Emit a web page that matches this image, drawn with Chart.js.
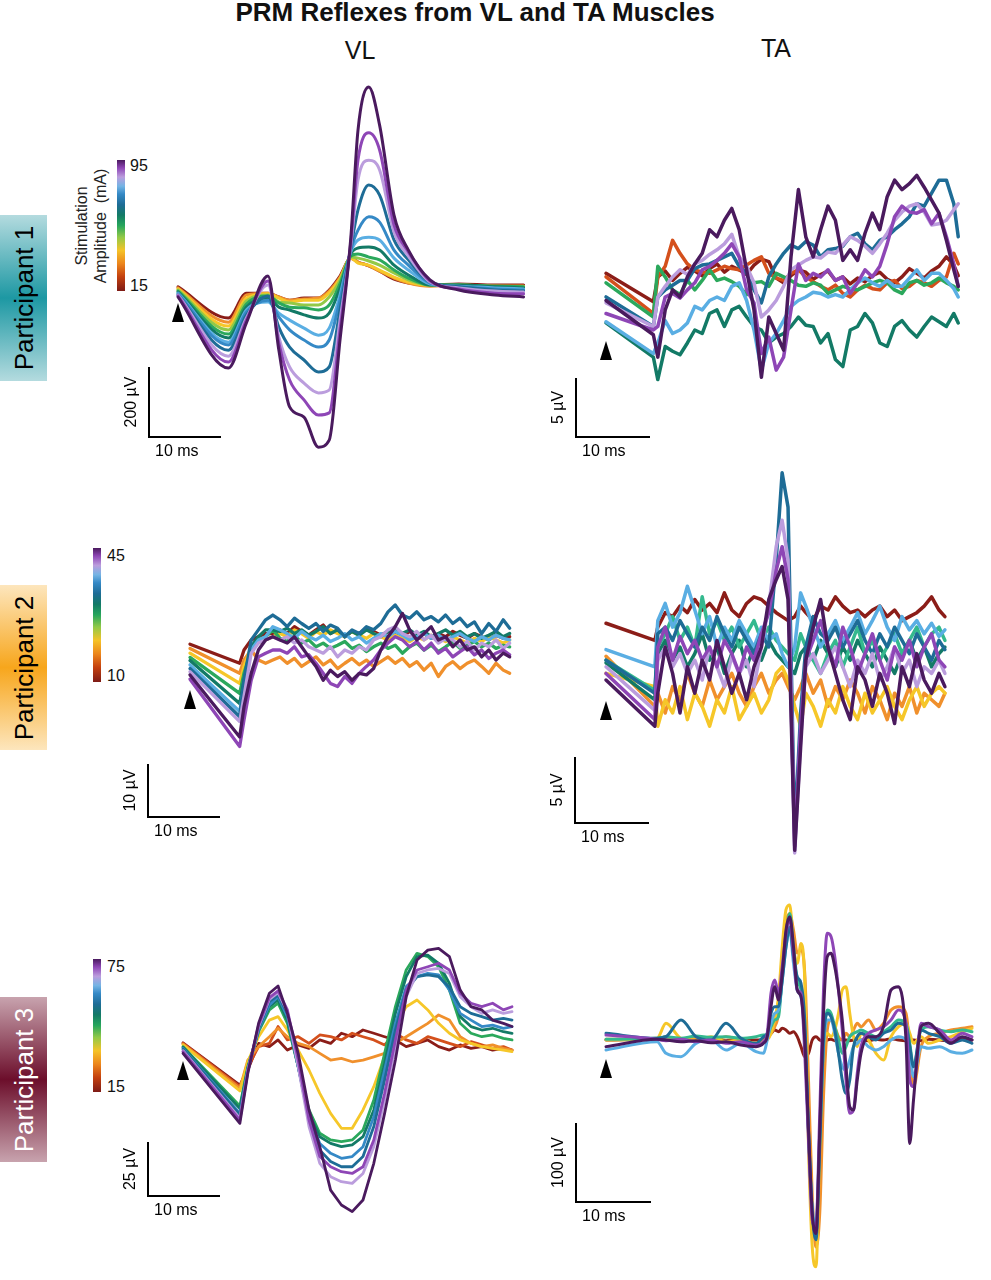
<!DOCTYPE html>
<html>
<head>
<meta charset="utf-8">
<script src="https://cdn.jsdelivr.net/npm/chart.js@4.4.1/dist/chart.umd.min.js"></script>
<style>
  body { margin: 0; background: #fff; font-family: 'Liberation Sans', Arial, sans-serif; }
  #page { position: relative; width: 991px; height: 1280px; overflow: hidden; }
  .abs { position: absolute; }
  .title { left: 0; top: -1px; width: 950px; text-align: center; font: bold 26px/26px 'Liberation Sans', Arial, sans-serif; color: #111; }
  .head { width: 100px; text-align: center; font: 25px/25px 'Liberation Sans', Arial, sans-serif; color: #111; }
  .pbox { left: 0; width: 47px; }
  .pbox span { position: absolute; left: 50%; top: 50%; transform: translate(-50%, -50%) rotate(-90deg); white-space: nowrap; font: 26px/26px 'Liberation Sans', Arial, sans-serif; }
  .cbar { width: 8px; background: linear-gradient(to top, #7e1b16 0%, #c4410f 11%, #ec861c 21%, #f5c328 31%, #92c947 41%, #27a65c 50%, #137a66 58%, #1e6c96 66%, #3589c6 74%, #74b4e4 80%, #bb9ddd 87%, #8e46b6 94%, #4a1a5e 100%); }
  .ctick { font: 16px/18px 'Liberation Sans', Arial, sans-serif; color: #111; }
  .stim { left: 91px; top: 226px; transform: translate(-50%, -50%) rotate(-90deg); text-align: center; white-space: nowrap; font: 16px/19px 'Liberation Sans', Arial, sans-serif; color: #222; }
</style>
</head>
<body>
<div id="page">
  <div class="abs title">PRM Reflexes from VL and TA Muscles</div>
  <div class="abs head" style="left:310px;top:38px">VL</div>
  <div class="abs head" style="left:726px;top:36px">TA</div>

  <div class="abs pbox" style="top:215px;height:166px;background:linear-gradient(to bottom,#b4dbdf,#1d98a3 50%,#b4dbdf)"><span style="color:#000">Participant 1</span></div>
  <div class="abs pbox" style="top:585px;height:165px;background:linear-gradient(to bottom,#fde6bd,#f7a61c 50%,#fde6bd)"><span style="color:#000">Participant 2</span></div>
  <div class="abs pbox" style="top:997px;height:165px;background:linear-gradient(to bottom,#c8a3ae,#6c0e2b 50%,#c8a3ae)"><span style="color:#fff">Participant 3</span></div>

  <div class="abs cbar" style="left:117px;top:160px;height:131px"></div>
  <div class="abs ctick" style="left:130px;top:157px">95</div>
  <div class="abs ctick" style="left:130px;top:277px">15</div>
  <div class="abs stim">Stimulation<br>Amplitude&nbsp; (mA)</div>

  <div class="abs cbar" style="left:93px;top:548px;height:134px"></div>
  <div class="abs ctick" style="left:107px;top:547px">45</div>
  <div class="abs ctick" style="left:107px;top:667px">10</div>

  <div class="abs cbar" style="left:93px;top:959px;height:133px"></div>
  <div class="abs ctick" style="left:107px;top:958px">75</div>
  <div class="abs ctick" style="left:107px;top:1078px">15</div>
</div>

<script>
// trace colours, one per stimulation level (dark red = lowest, dark purple = highest)
const PAL = {
  dr: '#8b1d18', or: '#d4501c', lo: '#f0902c', ye: '#f6c729', lg: '#93c947',
  gr: '#2ba85c', tg: '#34b98e', dg: '#137a66', db: '#1e6c96', bl: '#3589c6',
  lb: '#5aaee3', li: '#bb9ddd', pu: '#8e46b6', dp: '#4a1a5e'
};

// ---- Participant 1, VL (ms, µV) ----
const vl1Time = [0, 7, 9.5, 12.5, 14, 15.5, 17.5, 19.5, 21, 22.5, 24, 25, 26.5, 28, 30, 32, 35, 39, 44, 48];
const vl1Dr = [9, -80, -9, -9, -20, -29, -23, -23, 0, 40, 91, 80, 69, 54, 31, 20, 14, 17, 14, 14];
const vl1Lo = [6, -92, -14, -9, -20, -29, -26, -23, -3, 36, 91, 80, 69, 54, 34, 20, 11, 14, 11, 11];
const vl1Ye = [3, -103, -23, -11, -23, -34, -29, -29, -8, 32, 91, 77, 71, 57, 37, 23, 14, 14, 11, 11];
const vl1Lg = [0, -114, -31, -14, -34, -37, -43, -43, -20, 27, 94, 91, 83, 71, 49, 29, 14, 14, 11, 9];
const vl1Gr = [-3, -126, -40, -17, -37, -49, -51, -57, -43, 18, 97, 103, 94, 86, 57, 34, 14, 14, 11, 9];
const vl1Dg = [-6, -137, -49, -23, -49, -57, -71, -80, -66, 5, 103, 120, 123, 114, 71, 43, 14, 14, 9, 6];
const vl1Lb = [-9, -149, -57, -34, -66, -86, -109, -129, -109, -14, 109, 143, 151, 143, 91, 57, 17, 11, 6, 3];
const vl1Bl = [-11, -157, -63, -29, -77, -114, -143, -163, -143, -29, 114, 171, 209, 194, 114, 71, 20, 9, 3, 0];
const vl1Db = [-14, -172, -72, -17, -106, -163, -200, -234, -220, -57, 120, 229, 300, 271, 143, 86, 23, 9, 0, -3];
const vl1Li = [-14, -189, -80, 14, -134, -220, -266, -294, -286, -86, 126, 314, 371, 343, 166, 97, 23, 6, -3, -6];
const vl1Pu = [-17, -206, -86, 26, -151, -257, -314, -357, -351, -114, 137, 371, 449, 400, 186, 109, 26, 3, -9, -11];
const vl1Dp = [-20, -223, -94, 40, -171, -334, -363, -449, -429, -143, 149, 457, 580, 471, 214, 114, 29, 0, -14, -20];

// ---- Participant 1, TA ----
const ta1Time = [0, 6.4, 7, 8, 9, 10, 11, 12, 13, 14, 15, 16, 17, 18, 19, 20, 21, 22, 23, 24, 25, 26, 27, 28, 29, 30, 31, 32, 33, 34, 35, 36, 37, 38, 39, 40, 41, 42, 43, 44, 45, 46, 47, 47.6];
const ta1Dp = [2.5, -0.4, -2.3, 1.7, 3.4, 2.8, 4.5, 5.6, 6.5, 8.5, 7.9, 9.3, 10.3, 8.5, 5.1, 1.7, -4.0, 1.1, -0.3, -1.7, 6.2, 11.9, 7.9, 6.2, 8.5, 10.5, 9.3, 5.9, 6.8, 5.9, 8.2, 9.9, 8.5, 11.3, 12.7, 11.9, 12.4, 13.1, 12.1, 11.0, 9.9, 7.6, 5.1, 3.7];
const ta1Pu = [1.4, 0, 0.3, 2.8, 3.1, 2.7, 3.4, 4.0, 5.1, 5.4, 5.9, 6.5, 7.3, 6.2, 3.4, 2.3, -2.0, -0.6, -3.4, -2.3, 1.7, 5.6, 4.2, 4.8, 4.5, 5.1, 4.2, 4.5, 3.1, 4.0, 5.1, 4.5, 5.4, 7.3, 9.6, 10.5, 10.0, 9.9, 10.2, 9.0, 9.9, 7.9, 5.6, 3.7];
const ta1Li = [2.3, 0.3, 2.8, 3.7, 4.5, 5.1, 4.7, 5.6, 5.9, 6.4, 6.8, 7.3, 8.1, 6.2, 5.4, 4.0, 1.1, 1.7, 2.5, 3.7, 5.1, 5.5, 5.9, 6.2, 6.1, 6.6, 6.5, 7.2, 7.9, 7.6, 7.1, 6.5, 7.3, 8.2, 9.3, 10.0, 10.5, 10.7, 10.0, 8.9, 9.0, 9.3, 10.2, 10.7];
const ta1Lb = [0.7, -2.0, -1.1, 0.8, -0.3, 0, 0.6, 2.0, 1.7, 2.5, 2.8, 2.5, 3.7, 4.0, 2.5, 0, -3.4, -1.1, -0.3, 0.8, 2.0, 2.5, 2.8, 3.2, 3.1, 2.8, 3.0, 2.8, 3.4, 4.0, 4.4, 4.0, 3.7, 4.2, 3.7, 3.7, 4.4, 5.1, 4.2, 4.8, 4.8, 4.2, 3.5, 2.8];
const ta1Db = [2.8, 0.3, 2.8, 3.4, 3.8, 4.2, 4.2, 5.2, 5.5, 5.6, 5.9, 6.2, 6.5, 5.4, 4.8, 3.4, 2.3, 4.5, 5.6, 6.5, 7.2, 6.9, 7.5, 7.2, 6.2, 6.8, 6.9, 7.1, 7.9, 8.2, 7.3, 6.8, 7.6, 7.9, 8.5, 9.0, 9.6, 10.7, 10.5, 11.6, 12.7, 12.7, 10.7, 7.9];
const ta1Dg = [0.6, -2.3, -4.2, -1.4, -1.8, -2.1, -1.1, 0, -0.3, 1.4, 1.7, 0.3, 1.7, 2.0, 1.1, 0.3, 0, -1.1, -0.6, -0.3, 0.3, 1.1, 0.4, 0.3, -1.1, -0.3, -2.5, -3.1, 0, 0.3, 1.4, 0.6, -1.1, -1.4, 0.3, 0.8, 0, -0.6, 0.3, 1.1, 0.7, 0.3, 1.4, 0.6];
const ta1Gr = [4.0, 1.1, 5.4, 4.5, 3.4, 3.0, 4.2, 3.4, 4.2, 5.1, 4.2, 4.4, 4.1, 3.7, 3.0, 4.0, 4.1, 3.7, 4.8, 4.5, 4.2, 3.8, 3.7, 4.0, 3.8, 3.1, 3.4, 3.7, 3.5, 3.4, 3.7, 4.0, 4.2, 4.0, 3.4, 3.1, 4.0, 4.2, 3.8, 4.0, 4.4, 4.0, 3.7, 3.4];
const ta1Or = [4.5, 1.4, 4.5, 5.4, 7.6, 6.5, 5.6, 5.1, 4.9, 4.8, 5.1, 5.4, 5.2, 5.1, 5.5, 5.9, 6.2, 4.8, 4.4, 4.2, 4.8, 5.1, 4.5, 4.1, 3.7, 3.4, 3.8, 3.1, 2.8, 3.4, 3.8, 3.5, 3.4, 4.0, 4.2, 3.5, 3.7, 4.2, 4.0, 3.7, 4.2, 4.5, 6.5, 5.6];
const ta1Dr = [4.8, 2.4, 4.5, 5.0, 4.2, 4.8, 5.3, 5.0, 4.6, 5.2, 5.6, 4.9, 5.4, 5.1, 4.7, 5.5, 6.0, 5.8, 4.4, 4.0, 4.6, 5.1, 4.9, 4.3, 4.7, 5.0, 4.2, 4.5, 3.9, 4.4, 4.1, 4.6, 4.9, 4.3, 4.0, 4.5, 5.2, 4.8, 4.4, 5.0, 5.4, 6.2, 5.5, 4.6];

// ---- Participant 2, VL ----
const vl2Time = [0, 6.9, 7.5, 8.5, 9.5, 10.5, 11.5, 12.5, 13.5, 14.5, 15.5, 16.5, 17.5, 18.5, 19.5, 20.5, 21.5, 22.5, 23.5, 24.5, 25.5, 26.5, 27.5, 28.5, 29.5, 30.5, 31.5, 32.5, 33.5, 34.5, 35.5, 36.5, 37.5, 38.5, 39.5, 40.5, 41.5, 42.5, 43.5, 44.4];
const vl2Dr = [1.1, -2.5, 0, 1.9, 2.5, 3.1, 3.1, 3.8, 3.1, 4.4, 3.5, 2.8, 3.8, 4.7, 3.1, 3.8, 2.5, 3.5, 3.1, 4.1, 3.5, 2.8, 3.5, 3.1, 2.5, 3.5, 2.8, 3.1, 2.2, 3.1, 2.5, 3.5, 2.8, 2.2, 3.1, 2.5, 1.9, 2.8, 2.2, 2.5];
const vl2Lo = [0.3, -4.4, -1.9, 0, -1.9, -2.5, -1.9, -1.3, -2.5, -1.6, -3.1, -2.2, -1.3, -2.8, -1.9, -3.5, -2.5, -1.6, -2.8, -1.9, -3.1, -2.2, -1.3, -2.5, -1.6, -3.1, -2.2, -3.8, -2.5, -5.0, -3.1, -2.2, -3.5, -2.5, -1.9, -3.1, -4.4, -2.5, -3.8, -4.4];
const vl2Ye = [-0.6, -6.3, -3.1, 0.6, 1.3, 1.9, 2.5, 3.1, 2.5, 3.8, 3.1, 2.2, 3.5, 2.8, 3.8, 3.1, 2.5, 3.5, 2.8, 2.2, 3.1, 2.5, 1.9, 2.8, 2.2, 1.6, 2.5, 1.9, 2.8, 2.2, 1.6, 2.5, 1.9, 1.3, 2.2, 1.6, 2.5, 1.9, 1.3, 1.9];
const vl2Gr = [-1.4, -8.2, -4.4, 0, 1.9, 2.5, 3.8, 2.2, 1.6, 2.8, 1.3, 1.9, 0.6, 1.3, 0.3, 0.9, 1.6, 0.3, 0.9, -0.3, 0.6, 1.3, 0.3, 0.9, -0.6, 0.6, 1.3, 0, 0.9, -0.3, 0.6, 1.6, 0.3, 0.9, 1.6, 0.6, 1.3, 0.3, 0.9, 0.6];
const vl2Dg = [-2.0, -10.1, -5.7, 0.6, 2.5, 3.8, 3.8, 3.5, 4.1, 3.1, 3.8, 2.8, 3.5, 4.4, 3.1, 3.8, 2.5, 3.5, 2.8, 3.8, 3.1, 2.5, 3.5, 4.1, 3.1, 3.8, 2.8, 3.5, 2.5, 3.1, 3.8, 2.8, 3.5, 2.5, 3.1, 2.2, 2.8, 3.5, 2.5, 3.1];
const vl2Lb = [-2.8, -11.6, -6.9, 0, 1.9, 2.5, 4.4, 3.8, 3.1, 2.2, 3.5, 2.5, 1.9, 2.8, 1.6, 2.2, 3.1, 1.9, 2.5, 1.3, 2.2, 3.1, 2.5, 3.5, 2.8, 1.9, 2.5, 3.1, 2.2, 2.8, 1.9, 2.5, 3.1, 2.2, 1.6, 2.5, 1.9, 2.8, 2.2, 1.9];
const vl2Db = [-3.5, -12.6, -5.7, 1.9, 3.8, 5.7, 6.6, 5.7, 4.4, 6.0, 5.0, 4.1, 5.0, 3.5, 4.7, 4.1, 2.5, 3.8, 3.1, 4.4, 3.8, 5.0, 7.2, 8.5, 6.6, 6.0, 7.2, 5.7, 6.3, 5.3, 6.6, 5.0, 6.0, 4.4, 5.3, 3.1, 5.0, 3.5, 5.7, 4.1];
const vl2Li = [-4.1, -13.5, -8.8, -0.6, 1.3, 1.9, 2.5, 1.9, 2.5, 1.3, 1.9, 0.6, 0, -0.6, 0.6, -1.3, 0, -0.6, 0.6, 0, 1.9, 2.5, 3.8, 4.4, 3.1, 2.5, 3.5, 1.9, 2.8, 1.3, 2.2, 1.9, 0.6, 1.6, 0, 1.3, 0.6, 1.9, 0.3, 1.3];
const vl2Dp = [-4.7, -16.4, -10.7, -4.4, 0, 1.9, 2.5, 1.9, 1.3, 2.5, 0.6, -1.3, -3.1, -5.7, -3.8, -5.0, -4.1, -5.7, -4.4, -4.7, -3.5, 0, 2.5, 4.4, 6.9, 3.8, 1.9, 3.1, 4.4, 1.9, 2.5, 0.6, 1.9, 0, 0.6, -1.3, 0, -1.9, -0.6, -1.3];
const vl2Pu = [-5.5, -18.2, -13.2, -5.7, -1.3, -0.6, 0, 0, -0.6, 0.6, -1.3, -0.9, -2.5, -4.4, -6.3, -6.9, -5.0, -6.3, -4.4, -3.1, -1.9, 0, 1.3, 2.5, 1.9, 0.6, 1.6, 0, 1.3, -0.6, 0.3, -1.3, -0.3, 0.6, -0.9, 0, -1.6, -0.6, 0, -0.9];

// ---- Participant 2, TA ----
const ta2Time = [0, 6.6, 7, 8, 9, 10, 11, 12, 13, 14, 15, 16, 17, 18, 19, 20, 21, 22, 23, 23.8, 24.6, 25.5, 26.3, 27, 28, 29, 30, 31, 32, 33, 34, 35, 36, 37, 38, 39, 40, 41, 42, 43, 44, 45, 45.8];
const ta2Dr = [4.3, 3.0, 4.0, 5.1, 4.8, 5.6, 5.1, 6.1, 5.3, 5.8, 5.1, 6.6, 5.3, 4.8, 5.8, 6.3, 6.1, 5.6, 5.1, 4.8, 4.5, 4.8, 5.6, 5.1, 4.5, 5.6, 5.3, 6.3, 5.6, 5.1, 5.3, 4.8, 5.3, 5.6, 4.8, 5.3, 4.5, 4.8, 5.1, 5.6, 6.3, 5.3, 4.8];
const ta2Db = [1.5, -1.0, 3.5, 4.0, 3.0, 4.5, 3.5, 2.5, 4.0, 3.0, 4.8, 3.5, 2.5, 4.0, 3.0, 2.0, 3.5, 2.5, 9.1, 15.7, 13.1, -11.6, -2.5, 2.5, 4.8, 3.5, 3.0, 4.0, 2.5, 3.5, 4.5, 3.0, 2.0, 3.5, 2.5, 4.0, 3.0, 2.0, 3.5, 2.5, 1.5, 3.0, 2.3];
const ta2Li = [1.0, -2.3, 1.5, 2.5, 1.0, 2.0, 0.5, 1.5, 0, 2.5, 1.0, -0.5, 1.8, 0.5, 1.5, -0.5, 2.5, 5.6, 10.1, 12.1, 9.1, -13.1, -4.5, 1.0, 2.0, 0.5, 1.5, 2.5, 1.0, -0.5, 1.5, 0.5, 2.0, 0, 1.0, 2.5, 0.5, 1.5, -0.5, 1.0, 0.5, 1.5, 0.5];
const ta2Pu = [0.5, -3.0, 2.5, 4.0, 1.5, 3.3, 2.0, 3.0, 1.5, 2.5, 1.0, 3.0, 2.0, 0.5, 2.5, 1.5, 3.5, 5.1, 8.3, 10.1, 7.6, -12.6, -3.5, 1.5, 3.0, 4.5, 2.5, 1.0, 4.0, 2.5, 0.5, 2.0, 3.5, 1.5, 0, 2.5, 1.5, 3.0, 1.0, 2.5, 3.5, 1.5, 1.0];
const ta2Dp = [0, -3.5, -1.0, 2.5, 0.5, -2.5, 1.0, -1.0, 1.5, 0, 3.0, 1.0, -1.0, 0.5, -1.5, 1.0, 2.5, 6.1, 7.6, 8.6, 6.1, -12.9, -5.1, 1.5, 4.0, 6.1, 2.5, 0.5, -1.5, -3.0, 1.0, 0, -2.0, 0.5, -1.0, -3.3, 1.0, -0.5, 2.0, 0, -1.0, 0.5, -0.5];
const ta2Lb = [2.3, 1.0, 4.5, 5.8, 4.0, 5.1, 7.1, 5.3, 3.5, 4.8, 2.5, 4.0, 3.0, 4.5, 3.5, 2.5, 4.0, 3.0, 3.5, 2.0, 1.0, 2.5, 6.6, 5.6, 4.0, 2.5, 3.5, 4.5, 3.0, 4.0, 5.1, 3.5, 4.5, 5.6, 4.0, 3.0, 4.8, 3.8, 4.5, 3.5, 4.3, 3.3, 3.8];
const ta2Tg = [1.5, -0.8, 2.5, 3.5, 4.8, 3.0, 4.0, 2.5, 6.3, 3.5, 4.5, 3.0, 4.0, 2.5, 3.5, 4.5, 3.0, 4.0, 3.0, 2.5, 2.0, 1.5, 3.5, 2.5, 1.5, 0.5, 2.0, 3.0, 1.0, 2.5, 4.0, 2.0, 3.0, 1.5, 2.5, 3.5, 2.0, 3.0, 4.0, 2.5, 3.5, 4.0, 3.0];
const ta2Dg = [1.3, -1.5, 2.0, 3.0, 1.5, 2.5, 1.0, 2.0, 3.5, 1.5, 2.5, 0.5, 2.0, 3.0, 1.0, 2.5, 1.5, 3.0, 2.0, 1.5, 1.0, 0.5, 2.0, 2.5, 1.5, 3.0, 2.0, 1.0, 2.5, 1.5, 3.0, 2.0, 1.0, 2.5, 1.5, 0.5, 2.0, 3.0, 1.5, 2.5, 1.0, 2.0, 2.5];
const ta2Ye = [0.5, -0.5, -3.5, -1.5, -2.5, -0.5, -3.0, -1.0, -2.0, -3.5, -1.5, -2.5, -0.5, -3.0, -2.0, -1.0, -2.5, -1.5, 0.5, 1.0, 0, -2.0, -3.5, -1.0, -2.0, -3.5, -1.5, -2.5, -0.5, -2.0, -3.0, -1.0, -2.5, -1.5, -0.5, -2.0, -3.0, -1.5, -0.5, -2.0, -1.0, -0.5, -1.0];
const ta2Lo = [1.8, -2.0, -1.0, -2.5, -0.5, -1.5, 0.5, -1.0, -2.0, 0, -1.5, -0.5, 0.5, -1.0, -2.0, -0.5, 0.5, -1.0, 0, 0.5, -0.5, -1.5, -0.5, 0.5, -1.0, 0, -2.0, -0.5, -1.5, 0, -1.0, -2.5, -0.5, -1.5, -3.0, -1.0, -2.0, -0.5, -2.5, -1.0, -1.5, -2.0, -1.0];

// ---- Participant 3, VL ----
const vl3Time = [0, 7.9, 9, 10.5, 12, 13.2, 14.5, 16, 17.5, 19, 20.5, 22, 23.5, 25, 26.5, 28, 29.5, 31, 32.5, 34, 35.5, 37, 38.5, 40, 41.5, 43, 44.5, 45.7];
const vl3Dp = [-3.4, -35.8, -12.7, 10.5, 24.4, 27.8, 15.1, -3.4, -29.6, -46.6, -66.7, -73.6, -76.7, -71.3, -54.3, -31.2, -6.5, 22.8, 39.8, 44.4, 45.2, 41.4, 25.9, 18.2, 16.7, 12.0, 10.5, 9.0];
const vl3Pu = [-2.6, -34.3, -11.9, 9.7, 22.4, 25.5, 16.7, -6.5, -34.3, -51.2, -55.9, -58.2, -59.0, -55.9, -43.5, -21.9, 2.8, 25.9, 35.2, 36.7, 38.3, 35.2, 24.4, 19.8, 18.2, 19.8, 16.7, 18.2];
const vl3Li = [-2.2, -33.5, -11.4, 9.0, 21.6, 24.7, 15.9, -9.6, -37.3, -54.3, -60.5, -62.8, -63.6, -59.0, -46.6, -25.0, -0.3, 22.8, 33.6, 35.2, 35.9, 33.6, 22.8, 18.2, 15.1, 16.7, 15.1, 15.9];
const vl3Db = [-1.5, -31.9, -11.1, 8.2, 20.5, 23.6, 15.1, -9.6, -34.3, -48.2, -53.5, -55.9, -55.9, -51.2, -37.3, -15.7, 7.4, 25.9, 32.1, 32.9, 32.1, 27.2, 18.2, 15.1, 13.6, 12.0, 12.8, 12.0];
const vl3Bl = [-1.1, -31.2, -10.8, 7.4, 19.0, 22.8, 13.6, -9.6, -32.7, -45.1, -49.7, -52.0, -51.2, -46.6, -32.7, -11.1, 10.5, 27.5, 32.1, 33.6, 32.9, 25.9, 15.1, 12.0, 9.0, 9.7, 8.2, 9.0];
const vl3Dg = [-0.6, -29.0, -10.3, 7.4, 18.2, 21.3, 12.0, -9.6, -31.2, -42.0, -45.1, -46.6, -45.8, -42.0, -29.6, -8.0, 15.1, 32.1, 41.4, 42.1, 38.3, 29.0, 13.6, 9.0, 7.4, 8.2, 6.6, 5.9];
const vl3Gr = [-0.3, -27.8, -9.6, 6.6, 16.7, 19.8, 10.5, -9.6, -29.6, -40.4, -43.5, -44.3, -43.5, -38.9, -25.0, -3.4, 18.2, 35.2, 42.9, 41.4, 36.7, 25.9, 10.5, 5.9, 4.3, 5.1, 3.5, 2.8];
const vl3Ye = [0.5, -20.8, -7.2, 4.3, 12.0, 13.6, 7.4, -1.9, -11.1, -21.9, -31.2, -38.1, -38.1, -29.6, -18.8, -4.9, 9.0, 18.2, 21.3, 16.7, 10.5, 5.9, 2.8, 1.2, -0.3, -1.1, -1.9, -2.6];
const vl3Lo = [0.9, -19.6, -6.5, -0.3, 4.3, 8.2, 4.3, 1.2, -0.3, -3.4, -6.5, -5.7, -7.3, -6.5, -5.0, -3.4, 1.2, 4.3, 7.4, 10.5, 14.4, 12.0, 4.3, 1.2, -0.3, 0.5, -1.1, -1.9];
const vl3Or = [1.2, -18.8, -9.6, -0.3, 1.2, 9.0, 2.8, 4.3, 1.2, 5.1, 4.3, 2.8, 5.9, 4.3, 2.8, 0.5, 5.9, 2.8, 1.2, 4.3, 2.8, 1.2, -0.3, 2.0, 0.5, -1.1, -0.3, -1.9];
const vl3Dr = [1.5, -18.1, -11.1, 1.2, -0.3, 2.8, -1.9, 0.5, -1.1, 2.8, 1.2, 5.9, 4.3, 7.4, 5.9, 4.3, 2.8, -0.3, 1.2, 2.8, -0.3, -1.9, 0.5, -1.1, -0.3, -1.9, -1.1, -1.9];

// ---- Participant 3, TA ----
const ta3Time = [0, 6.8, 8, 10, 12, 14, 16, 18, 20, 21, 21.5, 22, 22.5, 23, 23.5, 24, 24.5, 25, 25.5, 26, 26.5, 27, 27.5, 28, 28.5, 29, 29.5, 30, 30.5, 31, 31.5, 32, 32.5, 33, 33.5, 34, 35, 36, 37, 38, 39, 40, 40.5, 41, 42, 43, 44.5, 46, 47.5, 48.8];
const ta3Dp = [-8.4, 0.8, 0, -2.1, -0.8, -3.4, -2.1, -6.3, -8.4, -4.2, 4.2, 42.2, 67.5, 50.6, 84.4, 139, 156, 118, 63.3, 54.9, 0, -114, -219, -245, -114, 33.8, 105.5, 109.7, 92.8, 63.3, 25.3, -33.8, -84.4, -88.6, -50.6, -16.9, 4.2, 4.2, 16.9, 63.3, 67.5, 0, -131, -76, 16.9, 21.1, 8.4, -4.2, 4.2, 0];
const ta3Pu = [6.3, 0.8, -0.8, 0.8, -2.1, 0, -4.2, -2.1, -6.3, -2.1, 8.4, 59.1, 75.9, 59.1, 92.8, 135, 152, 110, 63.3, 59.1, -16.9, -127, -228, -236, -92.8, 63.3, 135, 131, 105.5, 63.3, 12.7, -50.6, -92.8, -88.6, -42.2, -8.4, 8.4, 12.7, 16.9, 25.3, 38.0, 21.1, -50.6, -59.1, 21.1, 16.9, 12.7, 0, 8.4, 4.2];
const ta3Db = [8.4, 2.1, 4.2, 25.3, 4.2, 0, 21.1, 2.1, -4.2, 4.2, 8.4, 33.8, 42.2, 42.2, 75.9, 118, 143, 105.5, 80.2, 71.7, 25.3, -114, -219, -253, -135, 0, 33.8, 29.5, 12.7, -16.9, -50.6, -67.5, -50.6, -8.4, 4.2, 8.4, 4.2, 0, 8.4, 12.7, 21.1, 16.9, -8.4, -33.8, 12.7, 8.4, 4.2, -4.2, 0, -4.2];
const ta3Lb = [-12.7, -2.1, -16.9, -21.1, -4.2, 0, -12.7, -4.2, -14.8, -16.9, 0, 21.1, 33.8, 38.0, 75.9, 118, 139, 97, 63.3, 54.9, 8.4, -118, -211, -236, -118, -8.4, 25.3, 25.3, 8.4, -16.9, -33.8, -38.0, -25.3, -8.4, -4.2, 0, -8.4, -12.7, -8.4, 0, 4.2, 0, -16.9, -46.4, -8.4, -10.5, -8.4, -14.8, -16.9, -12.7];
const ta3Tg = [0.8, 2.1, 4.2, 2.1, 5.1, 3.4, 4.2, 2.1, 4.2, 6.3, 6.3, 16.9, 25.3, 29.5, 80.2, 131, 160, 118, 75.9, 63.3, 12.7, -118, -219, -245, -127, -8.4, 38.0, 33.8, 16.9, 0, -16.9, -8.4, 4.2, 8.4, 10.5, 12.7, 8.4, 4.2, 10.5, 16.9, 25.3, 21.1, -4.2, -33.8, 12.7, 16.9, 12.7, 10.5, 12.7, 10.5];
const ta3Ye = [0, 2.1, 21.1, 2.1, 0, 4.2, -2.1, 0, -4.2, -2.1, 0, 8.4, 25.3, 54.9, 118, 165, 171, 118, 97, 122, 75.9, -135, -262, -287, -135, -8.4, 8.4, 4.2, 12.7, 33.8, 63.3, 67.5, 33.8, 4.2, -8.4, 8.4, 0, -16.9, -25.3, 4.2, 16.9, 21.1, 8.4, -4.2, 4.2, -4.2, 0, 4.2, 10.5, 14.8];
const ta3Lo = [0.8, 0.8, 4.2, 0, 2.1, -2.1, 4.2, 0, -4.2, 0, 2.1, 8.4, 16.9, 33.8, 97, 148, 160, 139, 110, 114, 84.4, -50.6, -198, -262, -219, -71.7, 12.7, 25.3, 16.9, 4.2, 0, 8.4, 4.2, 12.7, 21.1, 16.9, 25.3, 12.7, 21.1, 38.0, 42.2, 33.8, -8.4, -59.1, -8.4, 4.2, 8.4, 12.7, 14.8, 16.9];
const ta3Dr = [0, 0.8, 0, -0.8, 0.8, 0, -0.8, 0.8, 0, 0.8, 4.2, 8.4, 12.7, 10.5, 14.8, 12.7, 8.4, 10.5, 4.2, -8.4, -21.1, -16.9, 0, 4.2, 0, -2.1, 0, 0.8, -0.8, 0, 0.8, 0, -0.8, 0, 0.8, 0, -0.8, 0.8, 0, 1.7, 0, -0.8, 0.8, 0, -0.8, 0.8, 0, -1.7, 0.8, 0];

// panel layout in page pixels: box = [left, top, width, height], t0/y0 = pixel of 0 ms / 0 µV
const panels = [
  { box: [100, 60, 440, 420], t0: 178, y0: 290, pxMs: 7.2, pxUv: 0.35, bar: [149, 437], barUv: 200, barLabel: '200 µV', triTop: 303, lw: 3, smooth: true,
    times: vl1Time, traces: [[vl1Dp, 'dp'], [vl1Pu, 'pu'], [vl1Li, 'li'], [vl1Db, 'db'], [vl1Bl, 'bl'], [vl1Lb, 'lb'], [vl1Dg, 'dg'], [vl1Gr, 'gr'], [vl1Lg, 'lg'], [vl1Ye, 'ye'], [vl1Lo, 'lo'], [vl1Dr, 'dr']] },
  { box: [530, 150, 450, 320], t0: 606, y0: 330, pxMs: 7.4, pxUv: 11.8, bar: [576, 437], barUv: 5, barLabel: '5 µV', triTop: 341, lw: 3.5, smooth: false,
    times: ta1Time, traces: [[ta1Dp, 'dp'], [ta1Pu, 'pu'], [ta1Li, 'li'], [ta1Lb, 'lb'], [ta1Db, 'db'], [ta1Dg, 'dg'], [ta1Gr, 'gr'], [ta1Or, 'or'], [ta1Dr, 'dr']] },
  { box: [100, 520, 440, 330], t0: 190, y0: 650, pxMs: 7.2, pxUv: 5.3, bar: [148, 817], barUv: 10, barLabel: '10 µV', triTop: 690, lw: 3.3, smooth: false,
    times: vl2Time, traces: [[vl2Dp, 'dp'], [vl2Pu, 'pu'], [vl2Li, 'li'], [vl2Db, 'db'], [vl2Lb, 'lb'], [vl2Dg, 'dg'], [vl2Gr, 'gr'], [vl2Ye, 'ye'], [vl2Lo, 'lo'], [vl2Dr, 'dr']] },
  { box: [530, 460, 450, 400], t0: 606, y0: 680, pxMs: 7.4, pxUv: 13.2, bar: [575, 823], barUv: 5, barLabel: '5 µV', triTop: 701, lw: 3.5, smooth: false,
    times: ta2Time, traces: [[ta2Dp, 'dp'], [ta2Pu, 'pu'], [ta2Li, 'li'], [ta2Db, 'db'], [ta2Lb, 'lb'], [ta2Tg, 'tg'], [ta2Dg, 'dg'], [ta2Ye, 'ye'], [ta2Lo, 'lo'], [ta2Dr, 'dr']] },
  { box: [100, 930, 440, 300], t0: 183, y0: 1046, pxMs: 7.2, pxUv: 2.16, bar: [148, 1196], barUv: 25, barLabel: '25 µV', triTop: 1061, lw: 2.8, smooth: false,
    times: vl3Time, traces: [[vl3Dp, 'dp'], [vl3Pu, 'pu'], [vl3Li, 'li'], [vl3Db, 'db'], [vl3Bl, 'bl'], [vl3Dg, 'dg'], [vl3Gr, 'gr'], [vl3Ye, 'ye'], [vl3Lo, 'lo'], [vl3Or, 'or'], [vl3Dr, 'dr']] },
  { box: [530, 880, 450, 400], t0: 606, y0: 1040, pxMs: 7.5, pxUv: 0.79, bar: [576, 1202], barUv: 100, barLabel: '100 µV', triTop: 1059, lw: 3, smooth: true,
    times: ta3Time, traces: [[ta3Dp, 'dp'], [ta3Pu, 'pu'], [ta3Db, 'db'], [ta3Lb, 'lb'], [ta3Tg, 'tg'], [ta3Ye, 'ye'], [ta3Lo, 'lo'], [ta3Dr, 'dr']] }
];

// stimulus arrow + scale bars, placed with the panel's own scales
function decor(p) {
  return {
    id: 'decor',
    afterDraw(chart) {
      const ctx = chart.ctx, xs = chart.scales.x, ys = chart.scales.y;
      ctx.save();
      const tx = xs.getPixelForValue(0), ty = p.triTop - p.box[1];
      ctx.fillStyle = '#000';
      ctx.beginPath();
      ctx.moveTo(tx, ty);
      ctx.lineTo(tx + 6, ty + 19);
      ctx.lineTo(tx - 6, ty + 19);
      ctx.closePath();
      ctx.fill();

      const bx = p.bar[0] - p.box[0], by = p.bar[1] - p.box[1];
      const lx = xs.getPixelForValue(10) - xs.getPixelForValue(0);
      const ly = ys.getPixelForValue(0) - ys.getPixelForValue(p.barUv);
      ctx.strokeStyle = '#000';
      ctx.lineWidth = 2;
      ctx.beginPath();
      ctx.moveTo(bx, by - ly);
      ctx.lineTo(bx, by);
      ctx.lineTo(bx + lx, by);
      ctx.stroke();

      ctx.font = '16px "Liberation Sans", Arial, sans-serif';
      ctx.textAlign = 'left';
      ctx.textBaseline = 'top';
      ctx.fillText('10 ms', bx + 6, by + 7);
      ctx.translate(bx - 13, by - ly / 2);
      ctx.rotate(-Math.PI / 2);
      ctx.textAlign = 'center';
      ctx.textBaseline = 'alphabetic';
      ctx.fillText(p.barLabel, 0, 0);
      ctx.restore();
    }
  };
}

const page = document.getElementById('page');
panels.forEach(p => {
  const [l, t, w, h] = p.box;
  const canvas = document.createElement('canvas');
  canvas.width = w;
  canvas.height = h;
  canvas.style.position = 'absolute';
  canvas.style.left = l + 'px';
  canvas.style.top = t + 'px';
  page.appendChild(canvas);

  const datasets = p.traces.map(([vals, key]) => ({
    data: vals.map((v, i) => ({ x: p.times[i], y: v })),
    borderColor: PAL[key],
    borderWidth: p.lw,
    pointRadius: 0,
    fill: false,
    tension: 0,
    cubicInterpolationMode: p.smooth ? 'monotone' : 'default',
    borderJoinStyle: 'round',
    borderCapStyle: 'round',
    clip: false
  }));

  new Chart(canvas, {
    type: 'line',
    data: { datasets },
    options: {
      responsive: false,
      animation: false,
      events: [],
      devicePixelRatio: 1,
      layout: { padding: 0 },
      plugins: { legend: { display: false }, tooltip: { enabled: false } },
      scales: {
        x: { type: 'linear', display: false, min: (l - p.t0) / p.pxMs, max: (l + w - p.t0) / p.pxMs },
        y: { type: 'linear', display: false, min: (p.y0 - t - h) / p.pxUv, max: (p.y0 - t) / p.pxUv }
      }
    },
    plugins: [decor(p)]
  });
});
</script>
</body>
</html>
